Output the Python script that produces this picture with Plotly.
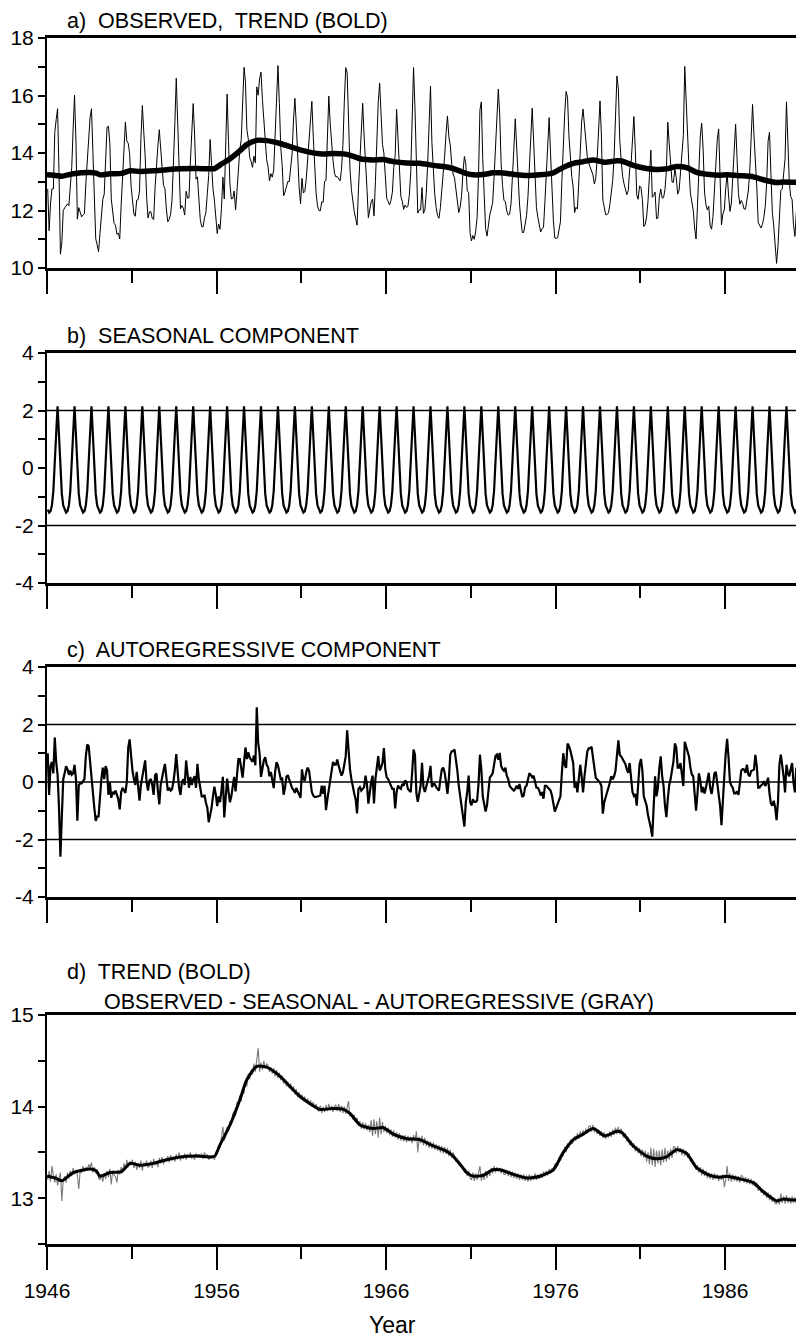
import plotly.graph_objects as go

# ---------------- data ----------------
START_YEAR = 1946
X_END = 1990.66

# seasonal component, one cycle Jan..Dec
SEASONAL_CYCLE = [-1.45, -1.55, -1.5, -1.3, -0.8, 0.0, 1.2, 2.15, 1.0, -0.2, -0.9, -1.3]

# autoregressive component, monthly from Jan 1946 (one row per year)
AR = [
    1.0, -0.45, 0.55, 0.7, 0.3, 1.55, 0.7, 0.25, -0.9, -2.6, -1.2, 0.1,
    0.3, 0.55, 0.45, 0.25, 0.4, 0.25, 0.3, 0.6, 0.1, -1.35, -0.1, -0.05,
    -0.05, 0.05, 0.1, 0.9, 1.3, 1.25, 0.7, 0.0, -0.35, -0.9, -1.35, -1.2,
    -1.2, -0.45, 0.1, 0.5, 0.1, 0.55, 0.4, -0.45, 0.0, -0.55, -0.35, -0.4,
    -0.3, -0.45, -0.6, -0.95, -0.35, -0.2, -0.3, -0.38, 0.0, 1.2, 1.48, 0.8,
    0.4, 0.1, -0.1, 0.35, -0.2, -0.65, -0.1, 0.2, 0.35, 0.75, 0.0, -0.3,
    0.05, 0.1, -0.1, -0.45, 0.24, 0.3, -0.3, -0.78, -0.1, 0.24, 0.4, 0.63,
    0.1, -0.3, -0.2, -0.3, -0.25, 0.0, 0.4, 0.97, 0.35, -0.2, -0.45, 0.0,
    0.1, -0.1, 0.75, 0.25, -0.2, 0.18, -0.1, 0.1, 0.2, -0.2, 0.63, 0.1,
    -0.3, -0.5, -0.5, -0.45, -0.72, -0.89, -1.4, -1.15, -0.9, -0.5, -0.16, -0.44,
    -0.84, -0.5, -0.7, -0.3, 0.18, -1.23, -0.44, 0.12, -0.33, -0.7, -0.5, -0.2,
    0.18, -0.33, 0.12, 0.8, 0.8, 0.4, 0.15, 0.69, 1.2, 0.8, 1.03, 0.85,
    0.75, 0.7, 0.92, 0.58, 2.6, 1.37, 1.0, 0.18, 0.46, 0.75, 0.86, 0.6,
    0.52, 0.2, 0.35, 0.1, -0.21, 0.35, 0.69, 0.58, 0.35, 0.1, 0.12, -0.44,
    -0.21, 0.18, 0.24, 0.1, 0.0, -0.21, -0.27, -0.38, -0.21, -0.3, -0.44, -0.55,
    0.44, 0.1, 0.05, 0.33, 0.5, 0.4, 0.0, -0.35, -0.47, -0.52, -0.52, -0.5,
    -0.5, -0.47, -0.13, -0.41, -0.13, -0.98, -0.6, -0.2, 0.05, 0.39, 0.7, 0.6,
    0.6, 0.78, 0.56, 0.39, 0.22, 0.33, 0.6, 0.9, 1.8, 1.01, 0.44, 0.1,
    -0.2, -0.4, -0.6, -1.09, -0.24, -0.18, -0.3, -0.25, -0.18, 0.22, -0.07, -0.75,
    -0.24, 0.0, 0.22, -0.75, 0.1, 0.56, 0.9, 0.4, 0.5, 0.67, 1.18, 0.44,
    0.16, 0.1, 0.0, -0.1, -0.24, -0.24, -0.92, -0.35, -0.13, -0.2, -0.24, -0.07,
    -0.13, 0.05, 0.0, -0.24, -0.3, -0.35, 0.33, 1.13, 0.95, -0.4, -0.69, -0.35,
    -0.13, 0.67, -0.18, -0.35, -0.18, 0.0, 0.22, 0.56, -0.18, -0.07, -0.07, -0.18,
    -0.25, -0.3, 0.1, 0.44, 0.5, 0.33, 0.0, -0.41, 0.1, 0.95, 1.07, 1.07,
    1.13, 0.8, 0.4, -0.13, -0.47, -0.81, -1.2, -1.55, -0.7, -0.35, 0.22, -0.69,
    -0.81, -0.6, -0.69, -0.69, -0.64, -0.07, 0.95, 0.44, -0.5, -0.81, -1.03, -0.81,
    -0.35, 0.16, 0.22, 0.3, 0.6, 0.9, 0.95, 0.78, 1.01, 0.56, 0.45, 0.39,
    0.5, 0.22, 0.1, -0.13, -0.2, -0.24, -0.3, -0.24, -0.13, -0.24, -0.07, -0.3,
    -0.52, -0.47, -0.18, -0.13, 0.1, 0.3, 0.25, 0.16, 0.22, 0.0, -0.2, -0.2,
    -0.3, -0.47, -0.35, -0.58, -0.13, -0.13, -0.18, -0.24, -0.3, -0.47, -0.75, -1.03,
    -0.9, -0.75, -0.65, -0.5, 0.32, 1.0, 0.6, 0.49, 1.34, 1.25, 1.1, 0.89,
    0.66, -0.2, -0.02, -0.36, 0.15, 0.6, 0.2, -0.36, 0.2, 0.77, 1.06, 1.17,
    1.17, 1.23, 0.94, 0.5, 0.15, 0.1, 0.03, -0.02, -0.14, -1.1, -0.7, -0.5,
    -0.4, -0.19, -0.02, 0.2, 0.09, 0.2, 0.4, 0.83, 1.45, 0.94, 0.89, 0.8,
    0.72, 0.62, 0.43, 0.32, 0.66, 0.0, -0.35, -0.48, -0.42, -0.82, -0.2, 0.6,
    0.8, 0.4, -0.5, -0.7, -0.82, -1.16, -1.35, -1.6, -1.9, -0.82, 0.2, -0.5,
    -0.2, 0.5, 0.89, 0.2, -0.14, -0.82, -1.22, -0.6, -0.1, 0.1, 0.45, 0.72,
    1.34, 1.2, 0.5, 0.5, 0.66, 0.32, -0.14, 1.4, 1.2, 1.0, 0.89, 0.5,
    0.26, 0.2, -0.5, -1.0, -0.4, 0.3, 0.05, -0.36, -0.17, -0.4, -0.2, 0.1,
    0.32, -0.2, -0.42, -0.1, 0.3, 0.35, 0.0, -0.5, -0.82, -1.5, -0.48, 0.2,
    1.0, 1.5, 0.85, 0.0, -0.12, -0.2, -0.4, -0.4, -0.33, -0.45, -0.05, 0.4,
    0.45, 0.43, 0.32, 0.6, 0.26, 0.2, 0.38, 0.4, 0.43, 0.94, 0.55, -0.2,
    -0.19, -0.12, -0.08, 0.03, -0.14, -0.02, 0.15, -0.4, -0.75, -0.82, -0.65, -0.88,
    -1.33, -0.7, 0.6, 0.95, 0.6, 0.2, -0.36, 0.6, 0.3, 0.2, 0.45, 0.66,
    -0.02, -0.36, 0.5, 0.32, 0.03, 0.4, 0.66, 0.94,
]

# observed - seasonal - autoregressive (gray curve of panel d), monthly from Jan 1946
GRAY = [
    13.20, 13.30, 13.18, 13.35, 13.25, 13.17, 13.26, 13.14, 13.22, 13.28, 12.97, 13.20,
    13.24, 13.17, 13.28, 13.22, 13.30, 13.24, 13.33, 13.26, 13.31, 13.25, 13.10, 13.30,
    13.28, 13.35, 13.29, 13.34, 13.30, 13.37, 13.33, 13.39, 13.28, 13.34, 13.27, 13.31,
    13.22, 13.20, 13.26, 13.18, 13.27, 13.21, 13.30, 13.23, 13.32, 13.15, 13.30, 13.25,
    13.24, 13.17, 13.31, 13.26, 13.34, 13.28, 13.38, 13.31, 13.42, 13.34, 13.40, 13.36,
    13.42, 13.33, 13.40, 13.31, 13.38, 13.33, 13.41, 13.30, 13.39, 13.35, 13.41, 13.34,
    13.35, 13.41, 13.33, 13.43, 13.36, 13.40, 13.34, 13.44, 13.38, 13.45, 13.37, 13.43,
    13.40, 13.46, 13.39, 13.47, 13.41, 13.45, 13.40, 13.48, 13.42, 13.50, 13.41, 13.47,
    13.43, 13.49, 13.42, 13.48, 13.44, 13.50, 13.43, 13.47, 13.42, 13.49, 13.44, 13.48,
    13.44, 13.49, 13.43, 13.50, 13.45, 13.48, 13.42, 13.47, 13.43, 13.46, 13.42, 13.47,
    13.49, 13.58, 13.55, 13.66, 13.78, 13.63, 13.68, 13.78, 13.73, 13.84, 13.80, 13.92,
    13.95, 13.90, 14.05, 14.00, 14.12, 14.06, 14.20, 14.14, 14.28, 14.22, 14.36, 14.30,
    14.40, 14.35, 14.47, 14.38, 14.50, 14.64, 14.38, 14.48, 14.40, 14.50, 14.42, 14.47,
    14.45, 14.38, 14.43, 14.36, 14.42, 14.33, 14.40, 14.31, 14.37, 14.29, 14.34, 14.25,
    14.30, 14.22, 14.27, 14.20, 14.25, 14.17, 14.22, 14.13, 14.19, 14.10, 14.16, 14.08,
    14.13, 14.06, 14.11, 14.04, 14.09, 14.02, 14.07, 14.00, 14.05, 13.98, 14.03, 13.96,
    13.95, 14.01, 13.93, 14.00, 13.94, 14.02, 13.95, 14.03, 13.96, 14.01, 13.94, 14.00,
    14.02, 13.95, 14.03, 13.94, 14.01, 13.93, 14.00, 13.92, 13.99, 14.06, 13.89, 13.93,
    13.86, 13.91, 13.83, 13.88, 13.79, 13.84, 13.76, 13.83, 13.75, 13.82, 13.74, 13.80,
    13.72, 13.85, 13.68, 13.86, 13.70, 13.84, 13.66, 13.88, 13.70, 13.83, 13.72, 13.79,
    13.71, 13.77, 13.69, 13.75, 13.67, 13.74, 13.66, 13.72, 13.64, 13.71, 13.63, 13.69,
    13.62, 13.69, 13.61, 13.68, 13.62, 13.67, 13.60, 13.69, 13.62, 13.73, 13.50, 13.67,
    13.60, 13.68, 13.58, 13.66, 13.57, 13.63, 13.55, 13.62, 13.54, 13.61, 13.53, 13.59,
    13.52, 13.58, 13.50, 13.57, 13.49, 13.56, 13.48, 13.55, 13.46, 13.53, 13.44, 13.50,
    13.46, 13.40, 13.43, 13.36, 13.39, 13.33, 13.35, 13.28, 13.32, 13.24, 13.30, 13.22,
    13.20, 13.28, 13.19, 13.27, 13.20, 13.29, 13.35, 13.19, 13.27, 13.20, 13.30, 13.22,
    13.30, 13.24, 13.33, 13.27, 13.35, 13.28, 13.34, 13.29, 13.33, 13.27, 13.32, 13.26,
    13.26, 13.31, 13.24, 13.30, 13.23, 13.29, 13.22, 13.28, 13.21, 13.27, 13.20, 13.26,
    13.20, 13.26, 13.19, 13.25, 13.18, 13.26, 13.19, 13.25, 13.20, 13.27, 13.20, 13.26,
    13.21, 13.27, 13.22, 13.29, 13.24, 13.30, 13.25, 13.32, 13.27, 13.33, 13.29, 13.37,
    13.38, 13.35, 13.45, 13.41, 13.50, 13.46, 13.56, 13.50, 13.60, 13.55, 13.64, 13.59,
    13.61, 13.68, 13.63, 13.71, 13.65, 13.73, 13.67, 13.74, 13.69, 13.76, 13.71, 13.78,
    13.79, 13.73, 13.80, 13.72, 13.77, 13.70, 13.75, 13.68, 13.73, 13.66, 13.72, 13.65,
    13.71, 13.66, 13.73, 13.67, 13.75, 13.69, 13.77, 13.70, 13.78, 13.70, 13.76, 13.69,
    13.66, 13.71, 13.62, 13.67, 13.58, 13.63, 13.55, 13.60, 13.51, 13.57, 13.49, 13.55,
    13.46, 13.53, 13.44, 13.52, 13.40, 13.50, 13.37, 13.55, 13.36, 13.54, 13.34, 13.52,
    13.38, 13.52, 13.36, 13.53, 13.39, 13.55, 13.40, 13.52, 13.42, 13.54, 13.44, 13.56,
    13.56, 13.49, 13.57, 13.50, 13.55, 13.47, 13.54, 13.46, 13.52, 13.44, 13.49, 13.40,
    13.43, 13.36, 13.39, 13.31, 13.36, 13.28, 13.34, 13.25, 13.32, 13.24, 13.30, 13.22,
    13.28, 13.21, 13.27, 13.20, 13.27, 13.21, 13.26, 13.19, 13.25, 13.20, 13.26, 13.12,
    13.20, 13.35, 13.19, 13.27, 13.18, 13.26, 13.19, 13.25, 13.18, 13.24, 13.17, 13.25,
    13.24, 13.17, 13.23, 13.16, 13.22, 13.15, 13.21, 13.14, 13.19, 13.12, 13.17, 13.08,
    13.13, 13.06, 13.10, 13.03, 13.08, 13.00, 13.06, 12.98, 13.04, 12.96, 13.01, 12.94,
    12.94, 13.00, 12.93, 13.05, 12.95, 13.02, 12.94, 13.03, 12.95, 13.01, 12.94, 13.02,
    12.95, 13.01, 12.94, 13.02, 12.95, 13.01, 12.96, 13.00,
]

# smooth trend (bold curves), read at irregular times
TREND_YEARS = [
    1946.0, 1946.5, 1946.87, 1947.55, 1948.54, 1948.9, 1949.13, 1949.72, 1950.4, 1950.9,
    1951.49, 1952.27, 1953.06, 1953.85, 1954.83, 1955.62, 1955.9, 1956.2, 1956.8, 1957.39,
    1957.78, 1958.37, 1958.96, 1959.75, 1960.93, 1962.1, 1962.89, 1963.5, 1963.9, 1964.47,
    1965.25, 1965.84, 1966.43, 1967.22, 1968.0, 1968.79, 1969.5, 1969.9, 1970.37, 1970.76,
    1971.15, 1971.74, 1972.3, 1972.73, 1973.51, 1974.3, 1975.09, 1975.87, 1976.46, 1977.05,
    1977.64, 1978.23, 1978.92, 1979.61, 1979.9, 1980.59, 1981.37, 1981.96, 1982.55, 1983.14,
    1983.74, 1984.33, 1985.11, 1985.7, 1986.1, 1986.88, 1987.67, 1988.26, 1989.05, 1989.44,
    1990.03, 1990.62,
]
TREND_VALUES = [
    13.24, 13.22, 13.19, 13.28, 13.32, 13.30, 13.24, 13.28, 13.29, 13.38,
    13.36, 13.38, 13.42, 13.45, 13.46, 13.45, 13.46, 13.58, 13.80, 14.08,
    14.29, 14.44, 14.43, 14.33, 14.11, 13.97, 13.98, 13.97, 13.92, 13.80,
    13.76, 13.77, 13.70, 13.65, 13.64, 13.57, 13.52, 13.47, 13.37, 13.28,
    13.24, 13.25, 13.31, 13.31, 13.26, 13.22, 13.24, 13.31, 13.50, 13.64,
    13.70, 13.76, 13.68, 13.73, 13.72, 13.57, 13.46, 13.43, 13.45, 13.53,
    13.49, 13.33, 13.25, 13.23, 13.24, 13.21, 13.17, 13.07, 12.97, 12.99,
    12.98, 12.98,
]

YEAR_TICKS = [1946, 1956, 1966, 1976, 1986]
YEAR_MINOR = [1951, 1961, 1971, 1981]
YEAR_LABELS = ["1946", "1956", "1966", "1976", "1986"]

Y_TICKS_A = [10, 12, 14, 16, 18]
Y_LABELS_A = ["10", "12", "14", "16", "18"]
Y_TICKS_BC = [-4, -2, 0, 2, 4]
Y_LABELS_BC = ["-4", "-2", "0", "2", "4"]
Y_TICKS_D = [13, 14, 15]
Y_LABELS_D = ["13", "14", "15"]

PANEL_TITLES = [
    "a)  OBSERVED,  TREND (BOLD)",
    "b)  SEASONAL COMPONENT",
    "c)  AUTOREGRESSIVE COMPONENT",
    "d)  TREND (BOLD)",
]
PANEL_D_SUBTITLE = "OBSERVED - SEASONAL - AUTOREGRESSIVE (GRAY)"
X_TITLE = "Year"

# ---------------- derived series ----------------
n = len(GRAY)
months = [START_YEAR + (i + 0.5) / 12.0 for i in range(n)]
seasonal = [SEASONAL_CYCLE[i % 12] for i in range(n)]
observed = [g + s + a for g, s, a in zip(GRAY, seasonal, AR)]

# ---------------- figure geometry ----------------
OFF = 8                      # page body margin of the html page
WIN_W, WIN_H = 804, 1342
W, H = WIN_W - OFF, WIN_H - OFF
AXIS_LEFT = 47               # window pixel of the left axis
ML = AXIS_LEFT - OFF
FONT = "Liberation Sans, Arial, Helvetica, sans-serif"


def ydom(top, bottom):
    return [1 - (bottom - OFF) / H, 1 - (top - OFF) / H]


def px_x(p):
    return (p - OFF - ML) / (W - ML)


def px_y(p):
    return 1 - (p - OFF) / H


panels = [(38, 268), (353, 583), (667, 897), (1015, 1244)]

fig = go.Figure()

fig.add_trace(go.Scatter(x=months, y=observed, mode="lines",
                         line=dict(color="black", width=1), xaxis="x", yaxis="y"))
fig.add_trace(go.Scatter(x=TREND_YEARS, y=TREND_VALUES, mode="lines",
                         line=dict(color="black", width=5.5, shape="spline", smoothing=0.6),
                         xaxis="x", yaxis="y"))
fig.add_trace(go.Scatter(x=months, y=seasonal, mode="lines",
                         line=dict(color="black", width=2.2), xaxis="x2", yaxis="y2"))
fig.add_trace(go.Scatter(x=months, y=AR, mode="lines",
                         line=dict(color="black", width=2.2), xaxis="x3", yaxis="y3"))
fig.add_trace(go.Scatter(x=months, y=GRAY, mode="lines",
                         line=dict(color="#7a7a7a", width=1.1), xaxis="x4", yaxis="y4"))
fig.add_trace(go.Scatter(x=TREND_YEARS, y=TREND_VALUES, mode="lines",
                         line=dict(color="black", width=3, shape="spline", smoothing=0.6),
                         xaxis="x4", yaxis="y4"))

yranges = [[10, 18], [-4, 4], [-4, 4], [12.5, 15]]
ytickvals = [Y_TICKS_A, Y_TICKS_BC, Y_TICKS_BC, Y_TICKS_D]
yticktext = [Y_LABELS_A, Y_LABELS_BC, Y_LABELS_BC, Y_LABELS_D]
yminor = [[11, 13, 15, 17], [-3, -1, 1, 3], [-3, -1, 1, 3], [12.5, 13.5, 14.5]]

layout = dict(
    width=W, height=H,
    margin=dict(l=ML, r=0, t=0, b=0, autoexpand=False),
    paper_bgcolor="white", plot_bgcolor="white",
    showlegend=False,
    font=dict(family=FONT, color="black", size=20),
)

for i in range(4):
    k = "" if i == 0 else str(i + 1)
    top, bottom = panels[i]
    layout["xaxis" + k] = dict(
        domain=[0, 1], range=[START_YEAR, X_END], anchor="y" + k,
        showline=True, linewidth=2.6, linecolor="black", mirror=True,
        ticks="outside", tickvals=YEAR_TICKS, ticktext=YEAR_LABELS,
        ticklen=23, tickwidth=1.5, tickcolor="black",
        minor=dict(tickvals=YEAR_MINOR, ticks="outside", ticklen=12,
                   tickwidth=1.5, tickcolor="black", showgrid=False),
        showticklabels=(i == 3), ticklabelstandoff=3,
        tickfont=dict(family=FONT, size=21, color="black"),
        showgrid=False, zeroline=False, fixedrange=True,
    )
    layout["yaxis" + k] = dict(
        domain=ydom(top, bottom), range=yranges[i], anchor="x" + k,
        showline=True, linewidth=2, linecolor="black",
        ticks="outside", tickvals=ytickvals[i], ticktext=yticktext[i],
        ticklen=7, tickwidth=1.5, tickcolor="black",
        minor=dict(tickvals=yminor[i], ticks="outside", ticklen=7,
                   tickwidth=1.5, tickcolor="black", showgrid=False),
        tickfont=dict(family=FONT, size=21, color="black"),
        showgrid=False, zeroline=False, fixedrange=True,
    )

shapes = []
for ref, levels in (("2", [2, -2]), ("3", [2, 0, -2])):
    for lv in levels:
        shapes.append(dict(type="line", xref="x" + ref + " domain", x0=0, x1=1,
                           yref="y" + ref, y0=lv, y1=lv, layer="below",
                           line=dict(color="black", width=1.3)))
layout["shapes"] = shapes

title_centers = [20, 335, 649, 971]
annotations = []
for t, yc in zip(PANEL_TITLES, title_centers):
    annotations.append(dict(text=t, xref="paper", yref="paper", x=px_x(65), y=px_y(yc + 1),
                            xanchor="left", yanchor="middle", showarrow=False,
                            font=dict(family=FONT, size=21.5, color="black")))
annotations.append(dict(text=PANEL_D_SUBTITLE, xref="paper", yref="paper",
                        x=px_x(102), y=px_y(1002), xanchor="left", yanchor="middle",
                        showarrow=False, font=dict(family=FONT, size=21.5, color="black")))
annotations.append(dict(text=X_TITLE, xref="paper", yref="paper",
                        x=px_x(392), y=px_y(1325), xanchor="center", yanchor="middle",
                        showarrow=False, font=dict(family=FONT, size=23, color="black")))
layout["annotations"] = annotations

fig.update_layout(**layout)
fig.write_html("out.html")
